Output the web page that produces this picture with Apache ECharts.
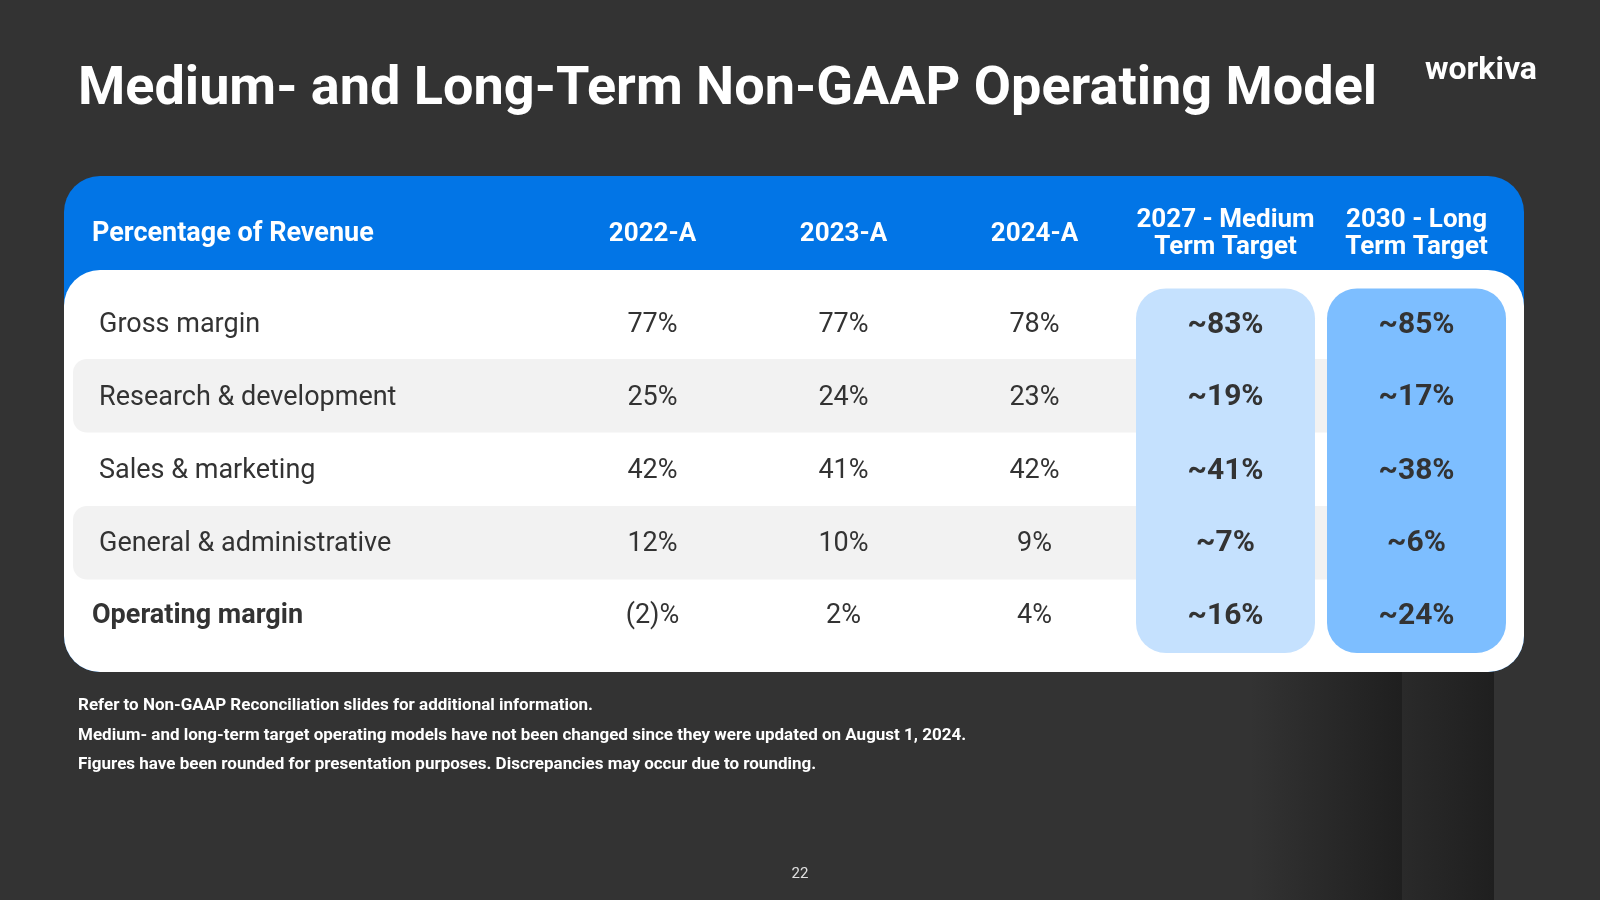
<!DOCTYPE html>
<html>
<head>
<meta charset="utf-8">
<script src="https://cdn.jsdelivr.net/npm/echarts@6/dist/echarts.min.js"></script>
<style>
  html, body { margin: 0; padding: 0; background: #333333; }
  #chart { width: 1600px; height: 900px; }
</style>
</head>
<body>
<div id="chart"></div>
<script>
// ---------- Data ----------
const titleText = 'Medium- and Long-Term Non-GAAP Operating Model';
const logoText = 'workiva';
const headerLabel = 'Percentage of Revenue';
const columns = ['2022-A', '2023-A', '2024-A', '2027 - Medium\nTerm Target', '2030 - Long\nTerm Target'];
const rows = ['Gross margin', 'Research & development', 'Sales & marketing', 'General & administrative', 'Operating margin'];
const v2022 = ['77%', '25%', '42%', '12%', '(2)%'];
const v2023 = ['77%', '24%', '41%', '10%', '2%'];
const v2024 = ['78%', '23%', '42%', '9%', '4%'];
const v2027 = ['~83%', '~19%', '~41%', '~7%', '~16%'];
const v2030 = ['~85%', '~17%', '~38%', '~6%', '~24%'];
const bandedRows = [1, 3];
const targetColumns = [3, 4];
const footnotes = [
  'Refer to Non-GAAP Reconciliation slides for additional information.',
  'Medium- and long-term target operating models have not been changed since they were updated on August 1, 2024.',
  'Figures have been rounded for presentation purposes. Discrepancies may occur due to rounding.'
];
const pageNumber = '22';

// ---------- Build ----------
const FONT = 'Roboto, "Noto Sans", sans-serif';
const valueCols = [v2022, v2023, v2024, v2027, v2030];
const cellData = [];
valueCols.forEach((col, c) => col.forEach((txt, r) => cellData.push([c, r, txt])));
const highlightColors = ['#C5E1FE', '#7DBEFF'];
const rowTextShift = [3, 2, 2, 1, 0];

const chart = echarts.init(document.getElementById('chart'), null, { renderer: 'canvas' });

const graphics = [
  { type: 'rect', z: -20, shape: { x: 1250, y: 600, width: 152, height: 300 },
    style: { fill: new echarts.graphic.LinearGradient(0, 0, 1, 0, [{ offset: 0, color: '#333333' }, { offset: 1, color: '#1f1f1f' }]) } },
  { type: 'rect', z: -20, shape: { x: 1402, y: 600, width: 92, height: 300 },
    style: { fill: new echarts.graphic.LinearGradient(0, 0, 1, 0, [{ offset: 0, color: '#2a2a2a' }, { offset: 1, color: '#1f1f1f' }]) } },
  { type: 'rect', z: -10, shape: { x: 64, y: 176, width: 1460, height: 496, r: 36 }, style: { fill: '#0275E6' } },
  { type: 'rect', z: -9, shape: { x: 64, y: 270, width: 1460, height: 402, r: 36 }, style: { fill: '#FFFFFF' } },
  { type: 'text', z: 20, x: 92, y: 234, style: { text: headerLabel, fill: '#FFFFFF', font: 'bold 27px ' + FONT, verticalAlign: 'middle', align: 'left' } },
  { type: 'text', z: 20, x: 1481, y: 71, style: { text: logoText, fill: '#FFFFFF', font: 'bold 32px ' + FONT, verticalAlign: 'middle', align: 'center' } },
  { type: 'text', z: 20, x: 800, y: 874, style: { text: pageNumber, fill: '#E0E0E0', font: '15px ' + FONT, verticalAlign: 'middle', align: 'center' } }
];
footnotes.forEach((t, i) => {
  graphics.push({ type: 'text', z: 20, x: 78, y: 706 + i * 29.5,
    style: { text: t, fill: '#FFFFFF', font: 'bold 17px ' + FONT, verticalAlign: 'middle', align: 'left' } });
});

const richLabels = {};
rows.forEach((_, i) => {
  const last = i === rows.length - 1;
  richLabels['r' + i] = {
    color: '#333333', fontFamily: FONT, fontSize: 27, fontWeight: last ? 'bold' : 'normal',
    padding: [rowTextShift[i] * 2, 0, 0, last ? 0 : 7]
  };
});

const option = {
  backgroundColor: '#333333',
  animation: false,
  title: {
    text: titleText, left: 73, top: 53,
    textStyle: { color: '#FFFFFF', fontFamily: FONT, fontWeight: 'bold', fontSize: 54, lineHeight: 64 }
  },
  grid: { left: 557, top: 285.5, width: 955, height: 367.5, containLabel: false },
  xAxis: {
    type: 'category', data: columns, position: 'top', z: 10,
    axisLine: { show: false }, axisTick: { show: false }, splitLine: { show: false },
    axisLabel: {
      color: '#FFFFFF', fontFamily: FONT, fontWeight: 'bold', fontSize: 26, lineHeight: 27,
      verticalAlign: 'middle', margin: 51.5, interval: 0
    }
  },
  yAxis: {
    type: 'category', data: rows, inverse: true, z: 10,
    axisLine: { show: false }, axisTick: { show: false }, splitLine: { show: false },
    axisLabel: {
      align: 'left', margin: 465, interval: 0,
      formatter: (v, i) => '{r' + i + '|' + v + '}',
      rich: richLabels
    }
  },
  graphic: graphics,
  series: [
    {
      name: 'bands', type: 'custom', z: 3, silent: true,
      data: bandedRows.map(r => [0, r]),
      renderItem: (params, api) => {
        const cy = api.coord([0, api.value(1)])[1];
        const h = api.size([0, 1])[1];
        const xr = api.coord([4, 0])[0];
        const x0 = params.coordSys.x - 484;
        return { type: 'rect', shape: { x: x0, y: cy - h / 2, width: xr - x0, height: h, r: [14, 0, 0, 14] }, style: { fill: '#F2F2F2' } };
      }
    },
    {
      name: 'targets', type: 'custom', z: 4, silent: true,
      data: targetColumns.map(c => [c, 0]),
      renderItem: (params, api) => {
        const col = api.value(0);
        const cx = api.coord([col, 0])[0];
        const w = api.size([1, 0])[0] - 12;
        const cs = params.coordSys;
        return { type: 'rect', shape: { x: cx - w / 2, y: cs.y + 3, width: w, height: cs.height - 3, r: 30 },
          style: { fill: highlightColors[params.dataIndex] } };
      }
    },
    {
      name: 'cells', type: 'custom', z: 6, silent: true,
      data: cellData,
      renderItem: (params, api) => {
        const c = api.value(0), r = api.value(1);
        const p = api.coord([c, r]);
        const bold = c >= 3;
        return { type: 'text', x: p[0], y: p[1] + rowTextShift[r],
          style: { text: cellData[params.dataIndex][2], fill: '#333333', align: 'center', verticalAlign: 'middle',
            font: (bold ? 'bold 30px ' : '27px ') + FONT } };
      }
    }
  ]
};
chart.setOption(option);
</script>
</body>
</html>
